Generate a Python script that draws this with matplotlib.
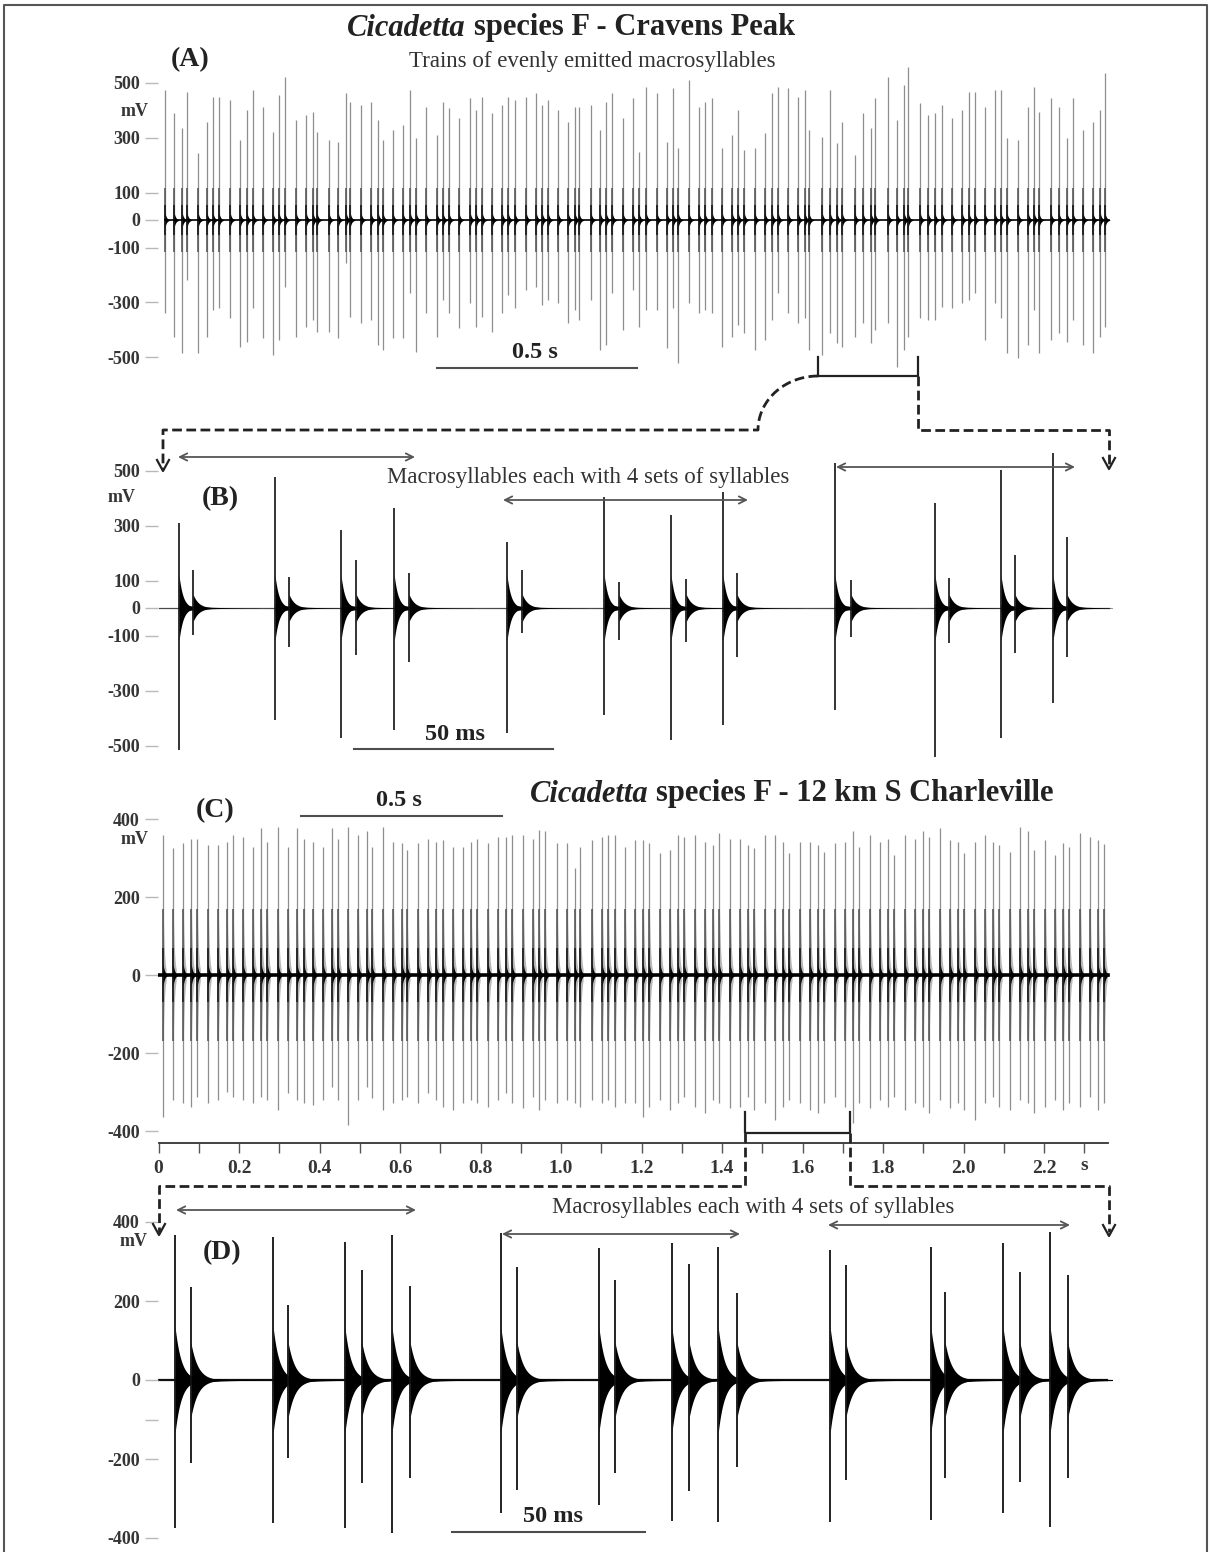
import numpy as np
import matplotlib
matplotlib.use("Agg")
import matplotlib.pyplot as plt

# ======================= DATA =======================
# Panel A : Cravens Peak, syllable times (s) and peak amplitudes (mV)
A_TIMES = [0.000, 0.023, 0.043, 0.055, 0.083, 0.105, 0.120, 0.135,
           0.163, 0.188, 0.205, 0.220, 0.245, 0.270, 0.285, 0.300,
           0.328, 0.353, 0.370, 0.380, 0.410, 0.433, 0.453, 0.463,
           0.490, 0.515, 0.533, 0.545, 0.570, 0.595, 0.613, 0.628,
           0.653, 0.680, 0.695, 0.710, 0.735, 0.763, 0.778, 0.793,
           0.818, 0.843, 0.858, 0.875, 0.903, 0.928, 0.943, 0.958,
           0.983, 1.008, 1.025, 1.035, 1.065, 1.088, 1.103, 1.118,
           1.145, 1.170, 1.185, 1.203, 1.230, 1.255, 1.270, 1.283,
           1.310, 1.335, 1.350, 1.368, 1.393, 1.418, 1.433, 1.448,
           1.475, 1.500, 1.518, 1.533, 1.558, 1.583, 1.600, 1.610,
           1.643, 1.663, 1.680, 1.693, 1.725, 1.745, 1.765, 1.775,
           1.808, 1.830, 1.848, 1.858, 1.888, 1.908, 1.925, 1.943,
           1.968, 1.993, 2.010, 2.025, 2.050, 2.075, 2.090, 2.105,
           2.133, 2.158, 2.173, 2.185, 2.215, 2.235, 2.255, 2.270,
           2.295, 2.320, 2.338, 2.350]
A_POS = [473, 389, 335, 465, 244, 356, 447, 447, 436, 291,
         400, 473, 411, 320, 455, 520, 364, 382, 393, 320,
         291, 284, 462, 429, 418, 429, 364, 291, 327, 345,
         473, 298, 411, 309, 429, 407, 371, 444, 400,
         448, 388, 418, 448, 436, 448, 461, 418, 436, 400,
         358, 412, 412, 418, 327, 430, 461, 370, 442, 248,
         485, 461, 285, 479, 261, 509, 412, 430, 442, 261,
         309, 400, 255, 261, 315, 461, 485, 479,
         448, 473, 327, 303, 473, 279, 358, 236, 388, 333,
         442, 521, 364, 491, 558, 424, 382, 388, 418, 370,
         400, 467, 467, 412, 473, 473, 297, 291, 412, 485,
         394, 442, 412, 297, 442, 327, 358, 400, 533]
A_NEG = [-338, -425, -484, -218, -484, -425, -327, -320, -356, -462,
         -444, -320, -429, -491, -436, -244, -425, -389, -364, -407,
         -407, -429, -156, -353, -375, -364, -455, -473, -429, -429,
         -265, -480, -338, -425, -291, -338, -393, -302, -389,
         -352, -406, -339, -273, -321, -255, -242, -309, -291, -303,
         -376, -327, -364, -291, -473, -455, -267, -400, -255, -388,
         -327, -327, -467, -321, -521, -303, -339, -327, -339, -461,
         -424, -382, -412, -473, -436, -364, -267, -339,
         -376, -358, -473, -491, -412, -448, -461, -424, -376, -448,
         -400, -376, -533, -473, -424, -358, -364, -364, -315, -321,
         -303, -291, -267, -436, -303, -358, -485, -503, -455, -327,
         -485, -436, -412, -442, -364, -455, -485, -424, -388]
A_ZOOM = [1.633, 1.883]          # s, window expanded in panel B

# Panel B : Cravens Peak, expanded (ms, mV)
B_MAIN_T = [3.5, 27.5, 44.0, 57.3, 85.5, 109.8, 126.5, 139.5, 167.5, 192.5, 209.0, 222.0]
B_MAIN_POS = [309, 476, 284, 364, 240, 404, 338, 422, 527, 382, 502, 564]
B_MAIN_NEG = [-516, -407, -473, -444, -455, -389, -480, -425, -371, -542, -473, -345]
B_SEC_T = [7.0, 31.0, 47.8, 61.0, 89.3, 113.5, 130.3, 143.0, 171.5, 196.0, 212.5, 225.5]
B_SEC_POS = [138, 113, 175, 127, 138, 95, 105, 127, 102, 109, 193, 258]
B_SEC_NEG = [-98, -142, -171, -196, -91, -116, -125, -178, -105, -127, -164, -178]

# Panel C : 12 km S Charleville (s, mV)
C_TIMES = [0.011,
           0.036, 0.061, 0.081, 0.096, 0.123, 0.148, 0.170, 0.185,
           0.210, 0.235, 0.255, 0.270, 0.297, 0.322, 0.344, 0.361,
           0.384, 0.409, 0.431, 0.446, 0.471, 0.496, 0.518, 0.530,
           0.558, 0.583, 0.605, 0.617, 0.645, 0.670, 0.689, 0.707,
           0.732, 0.756, 0.776, 0.791, 0.819, 0.843, 0.863, 0.878,
           0.906, 0.931, 0.945, 0.960, 0.990, 1.015, 1.034, 1.047,
           1.077, 1.102, 1.117, 1.134, 1.159, 1.184, 1.204, 1.219,
           1.246, 1.271, 1.291, 1.306, 1.333, 1.358, 1.378, 1.393,
           1.420, 1.445, 1.465, 1.480, 1.507, 1.531, 1.551, 1.566,
           1.594, 1.619, 1.638, 1.653, 1.681, 1.706, 1.725, 1.740,
           1.768, 1.792, 1.812, 1.827, 1.855, 1.880, 1.899, 1.914,
           1.942, 1.967, 1.986, 2.001, 2.029, 2.054, 2.074, 2.088,
           2.116, 2.141, 2.161, 2.175, 2.203, 2.228, 2.248, 2.262,
           2.290, 2.314, 2.334, 2.349]
C_POS = [359, 325, 338, 350, 350, 333, 333, 342, 359, 355,
         329, 376, 342, 380, 329, 376, 350, 342, 329, 376,
         350, 380, 359, 368, 329, 380, 342, 338, 321, 338,
         350, 342, 346, 329, 329, 342, 350, 338, 355, 355,
         359, 359, 350, 372, 368, 338, 338, 274, 329, 346,
         355, 359, 359, 329,
         346, 346, 338, 312, 321, 359, 355, 359, 342, 333,
         363, 350, 350, 333, 325, 359, 359, 342, 312, 342,
         342, 333, 316, 338, 342, 368, 329, 359, 342, 350,
         308, 359, 350, 368, 355, 376, 346, 342, 312, 342,
         359, 342, 333, 316, 380, 368, 321, 346, 308, 338,
         329, 363, 355, 346, 335]
C_NEG = [-363, -321, -329, -338, -312, -329, -321, -299, -312, -321,
         -329, -312, -321, -346, -303, -321, -329, -333, -321, -286,
         -321, -385, -321, -286, -316, -346, -329, -321, -312, -329,
         -303, -321, -338, -346, -329, -321, -329, -338, -321, -303,
         -329, -342, -312, -346, -321, -329, -321, -329, -338, -321,
         -329, -321, -338, -329,
         -329, -363, -338, -321, -346, -329, -312, -338, -355, -321,
         -329, -342, -338, -312, -346, -329, -372, -338, -321, -329,
         -346, -355, -329, -312, -338, -380, -329, -342, -321, -338,
         -312, -346, -329, -338, -355, -321, -342, -329, -346, -372,
         -329, -312, -338, -346, -321, -329, -355, -338, -321, -346,
         -329, -338, -312, -346, -329]
C_ZOOM = [1.457, 1.718]          # s, window expanded in panel D
C_XTICKS = [0.0, 0.2, 0.4, 0.6, 0.8, 1.0, 1.2, 1.4, 1.6, 1.8, 2.0, 2.2]
C_XTICK_LABELS = ['0', '0.2', '0.4', '0.6', '0.8', '1.0', '1.2', '1.4', '1.6', '1.8', '2.0', '2.2']
C_XMINOR = [0.1, 0.3, 0.5, 0.7, 0.9, 1.1, 1.3, 1.5, 1.7, 1.9, 2.1, 2.3]

# Panel D : Charleville, expanded (ms, mV)
D_MAIN_T = [2.6, 28.0, 46.6, 58.8, 87.0, 112.4, 131.3, 143.3, 172.3, 198.4, 217.1, 229.3]
D_MAIN_POS = [367, 362, 349, 367, 372, 334, 348, 337, 329, 337, 347, 375]
D_MAIN_NEG = [-375, -362, -375, -387, -337, -316, -356, -359, -359, -354, -337, -372]
D_SEC_T = [6.7, 31.9, 51.0, 63.5, 91.2, 116.6, 135.8, 148.2, 176.4, 202.1, 221.5, 233.9]
D_SEC_POS = [236, 190, 279, 238, 286, 253, 293, 220, 291, 223, 273, 266]
D_SEC_NEG = [-210, -197, -261, -248, -278, -236, -280, -220, -253, -248, -258, -248]

AB_YTICKS = [500, 300, 100, 0, -100, -300, -500]
AB_YLABELS = ['500', '300', '100', '0', '-100', '-300', '-500']
CD_YTICKS = [400, 200, 0, -200, -400]
CD_YLABELS = ['400', '200', '0', '-200', '-400']
D_YTICKS = [400, 200, 0, -100, -200, -400]
D_YLABELS = ['400', '200', '0', '', '-200', '-400']

# ======================= FIGURE =======================
W, H, DPI = 1212, 1552, 100
SERIF = ['Liberation Serif', 'DejaVu Serif']
plt.rcParams['font.family'] = SERIF
fig = plt.figure(figsize=(W / DPI, H / DPI), dpi=DPI)
fig.patch.set_facecolor('white')

TXT = '#222222'
TICKTXT = '#353535'


def panel(box, xo, xs, yo, ys):
    """box in pixels (x0, y0, x1, y1) from top-left; x_px = xo + xs*x, y_px = yo - ys*y"""
    x0, y0, x1, y1 = box
    ax = fig.add_axes([x0 / W, 1 - y1 / H, (x1 - x0) / W, (y1 - y0) / H])
    ax.set_xlim((x0 - xo) / xs, (x1 - xo) / xs)
    ax.set_ylim((yo - y1) / ys, (yo - y0) / ys)
    ax.set_facecolor('none')
    for s in ax.spines.values():
        s.set_visible(False)
    ax.set_xticks([])
    return ax


def yticks(ax, ticks, labels):
    ax.set_yticks(ticks)
    ax.set_yticklabels(labels, fontsize=13, fontweight='bold', color=TICKTXT)
    ax.tick_params(axis='y', length=9.4, width=1.0, color='#b8b8b8', pad=3.6)


def burst(ax, t0, amp, tau, dur, color, alpha=1.0, z=2):
    tt = np.linspace(t0, t0 + dur, 40)
    env = amp * np.exp(-(tt - t0) / tau)
    ax.fill_between(tt, -env, env, color=color, lw=0, alpha=alpha, zorder=z)


# ---------- Panel A ----------
A_MAP = (165, 400.0, 220, 0.275)
axA = panel((158, 55, 1112, 375), *A_MAP)
yticks(axA, AB_YTICKS, AB_YLABELS)
axA.plot([A_TIMES[0], A_TIMES[-1] + 0.01], [0, 0], color='black', lw=1.2, zorder=3)
axA.vlines(A_TIMES, A_NEG, A_POS, color='#8e8e8e', lw=0.9, zorder=1)
axA.vlines(A_TIMES, -115, 115, color='#5a5a5a', lw=1.2, zorder=2)
axA.vlines(A_TIMES, -55, 55, color='#252525', lw=1.4, zorder=2)
for t in A_TIMES:
    burst(axA, t, 26, 0.004, 0.012, 'black', z=3)

# ---------- Panel B ----------
B_MAP = (165, 4.0, 608, 0.275)
axB = panel((158, 440, 1112, 775), *B_MAP)
yticks(axB, AB_YTICKS, AB_YLABELS)
axB.plot([-1.5, 236], [0, 0], color='#4a4a4a', lw=0.9, zorder=1)
axB.vlines(B_MAIN_T, B_MAIN_NEG, B_MAIN_POS, color='#111111', lw=1.2, zorder=3)
axB.vlines(B_SEC_T, B_SEC_NEG, B_SEC_POS, color='#111111', lw=1.2, zorder=3)
for t in B_MAIN_T:
    burst(axB, t, 120, 1.0, 6.0, 'black')
    burst(axB, t, 14, 5.0, 20.0, 'black')
for t in B_SEC_T:
    burst(axB, t, 50, 1.4, 7.0, 'black')

# ---------- Panel C ----------
C_MAP = (158.5, 402.5, 975, 0.39)
axC = panel((158, 800, 1110, 1143), *C_MAP)
yticks(axC, CD_YTICKS, CD_YLABELS)
axC.spines['bottom'].set_visible(True)
axC.spines['bottom'].set_color('#333333')
axC.spines['bottom'].set_linewidth(1.3)
axC.spines['bottom'].set_bounds(0, 2.36)
axC.set_xticks(C_XTICKS)
axC.set_xticklabels(C_XTICK_LABELS, fontsize=14, fontweight='bold', color=TICKTXT)
axC.set_xticks(C_XMINOR, minor=True)
axC.tick_params(axis='x', which='both', direction='out', length=7.5, width=1.0,
                color='#555555', pad=5)
for t in C_TIMES:
    burst(axC, t, 220, 0.003, 0.008, '#a8a8a8', alpha=0.8, z=1)
axC.vlines(C_TIMES, C_NEG, C_POS, color='#8e8e8e', lw=0.9, zorder=2)
axC.vlines(C_TIMES, -170, 170, color='#5a5a5a', lw=1.2, zorder=2)
axC.vlines(C_TIMES, -70, 70, color='#2a2a2a', lw=1.4, zorder=2)
for t in C_TIMES:
    burst(axC, t, 30, 0.004, 0.012, 'black', z=3)
axC.plot([0, 2.36], [0, 0], color='black', lw=2.6, zorder=3)

# ---------- Panel D ----------
D_MAP = (165, 3.86, 1380, 0.395)
axD = panel((158, 1195, 1112, 1552), *D_MAP)
yticks(axD, D_YTICKS, D_YLABELS)
axD.plot([-1.8, 244], [0, 0], color='#111111', lw=1.6, zorder=1)
axD.vlines(D_MAIN_T, D_MAIN_NEG, D_MAIN_POS, color='#111111', lw=1.3, zorder=3)
axD.vlines(D_SEC_T, D_SEC_NEG, D_SEC_POS, color='#111111', lw=1.3, zorder=3)
for t in D_MAIN_T:
    burst(axD, t, 135, 1.6, 9.0, 'black')
    burst(axD, t, 14, 7.0, 28.0, 'black')
for t in D_SEC_T:
    burst(axD, t, 95, 1.8, 10.0, 'black')

# ======================= OVERLAY (annotations, pixel coords) =======================
ov = fig.add_axes([0, 0, 1, 1])
ov.set_xlim(0, W)
ov.set_ylim(H, 0)
ov.set_facecolor('none')
ov.axis('off')

# frame
ov.plot([4, 4, 1207, 1207], [H, 5, 5, H], color='#555555', lw=1.5)

renderer = fig.canvas.get_renderer()


def mixed_title(xc, y, parts, fs):
    texts, widths = [], []
    for s, st in parts:
        t = ov.text(0, y, s, fontsize=fs, fontweight='bold', fontstyle=st,
                    ha='left', va='center', color=TXT)
        texts.append(t)
        widths.append(t.get_window_extent(renderer).width)
    gap = 0.25 * fs * DPI / 72
    total = sum(widths) + gap * (len(parts) - 1)
    x = xc - total / 2
    for t, w in zip(texts, widths):
        t.set_x(x)
        x += w + gap


mixed_title(571, 28, [('Cicadetta', 'italic'), ('species F - Cravens Peak', 'normal')], 22)
mixed_title(792, 794, [('Cicadetta', 'italic'), ('species F - 12 km S Charleville', 'normal')], 22)

ov.text(592, 62, 'Trains of evenly emitted macrosyllables', fontsize=16.5,
        ha='center', va='center', color='#333333')
ov.text(588, 477, 'Macrosyllables each with 4 sets of syllables', fontsize=16.5,
        ha='center', va='center', color='#333333')
ov.text(753, 1208, 'Macrosyllables each with 4 sets of syllables', fontsize=16.5,
        ha='center', va='center', color='#333333')

for lab, x, y in [('(A)', 190, 60), ('(B)', 220, 499), ('(C)', 215, 811), ('(D)', 222, 1253)]:
    ov.text(x, y, lab, fontsize=20, fontweight='bold', ha='center', va='center', color=TXT)

for x, y in [(135, 111), (122, 497), (135, 840), (134, 1242)]:
    ov.text(x, y, 'mV', fontsize=13, fontweight='bold', ha='center', va='center', color=TICKTXT)

# scale bars
for (x0, x1, yb), (lab, xt, yt) in [((437, 637, 368), ('0.5 s', 535, 352)),
                                     ((354, 553, 749), ('50 ms', 455, 734)),
                                     ((301, 502, 816), ('0.5 s', 399, 801)),
                                     ((452, 645, 1532), ('50 ms', 553, 1516))]:
    ov.plot([x0, x1], [yb, yb], color='#4d4d4d', lw=1.5)
    ov.text(xt, yt, lab, fontsize=17.5, fontweight='bold', ha='center', va='center', color=TXT)

ov.text(1084, 1166, 's', fontsize=14, fontweight='bold', ha='center', va='center', color=TICKTXT)


# zoom brackets & dashed connectors
def xpx(mp, v):
    return mp[0] + mp[1] * v


def arrow_head(x, ytip):
    ov.plot([x - 6, x, x + 6], [ytip - 11, ytip, ytip - 11], color='#222222', lw=1.6)


DASH = dict(color='#222222', lw=2.0, linestyle=(0, (3.5, 1.6)))

# A bracket
xa0, xa1 = xpx(A_MAP, A_ZOOM[0]), xpx(A_MAP, A_ZOOM[1])
ov.plot([xa0, xa0, xa1, xa1], [357, 376, 376, 357], color='#222222', lw=1.6)
th = np.linspace(np.pi * 1.5, np.pi, 30)
cx, cy, rx, ry = xa0, 430, xa0 - 758, 54
arc_x = list(cx + rx * np.cos(th))
arc_y = list(cy + ry * np.sin(th))
ov.plot(arc_x + [163, 163], arc_y + [430, 470], **DASH)
arrow_head(163, 471)
ov.plot([xa1, xa1, 1109, 1109], [376, 430, 430, 468], **DASH)
arrow_head(1109, 469)

# C bracket
xc0, xc1 = xpx(C_MAP, C_ZOOM[0]), xpx(C_MAP, C_ZOOM[1])
ov.plot([xc0, xc0, xc1, xc1], [1112, 1133, 1133, 1112], color='#222222', lw=1.6)
ov.plot([xc0, xc0, 159, 159], [1133, 1186, 1186, 1232], **DASH)
arrow_head(159, 1235)
ov.plot([xc1, xc1, 1109, 1109], [1133, 1186, 1186, 1232], **DASH)
arrow_head(1109, 1236)

# macrosyllable double arrows
ARW = dict(arrowstyle='<->', color='#555555', lw=1.3, shrinkA=0, shrinkB=0, mutation_scale=13)
for x0, x1, y in [(178, 415, 457), (503, 748, 500), (836, 1075, 467),
                  (176, 416, 1210), (502, 740, 1234), (828, 1070, 1225)]:
    ov.annotate('', xy=(x1, y), xytext=(x0, y), arrowprops=ARW)

fig.savefig('out.png', dpi=DPI, facecolor='white')
